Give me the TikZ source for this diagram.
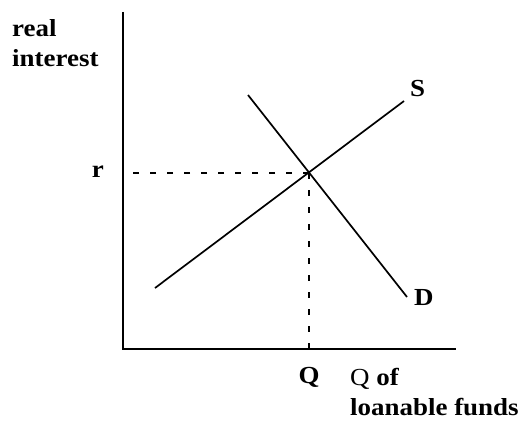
\documentclass[tikz,border=0pt]{standalone}
\usepackage{fontspec}
\setmainfont{Liberation Serif}[FakeStretch=1.1]
\usepackage{tikz}
\usetikzlibrary{positioning,calc}

\begin{document}
\begin{tikzpicture}[x=1pt,y=-1pt,lab/.style={font=\fontsize{24.5}{30}\selectfont\bfseries,inner sep=0pt},
  curve/.style={line width=1.7pt},guide/.style={line width=1.2pt,dash pattern=on 6pt off 11pt}]
\useasboundingbox (0,0) rectangle (526,420);
% axes
\coordinate (O) at (123,349); \coordinate (ytop) at (123,12); \coordinate (xend) at (456,349);
\draw[curve] (ytop) -- (O) -- (xend);
% supply and demand
\coordinate (s1) at (155,288); \coordinate (s2) at (404,101);
\coordinate (d1) at (248,95); \coordinate (d2) at (407,297);
\coordinate (E) at (309,173);
\draw[curve] (s1) -- (s2); \draw[curve] (d1) -- (d2);
\draw[guide] (E) -- (O |- E); \draw[guide] (E) -- (E |- O);
% labels
\node[lab,align=left,anchor=north west] (ylab) at (12,19) {real\\interest};
\node[lab,anchor=east] (rlab) at (104,172) {r};
\node[lab,anchor=south west] (slab) at (410,97) {S};
\node[lab,anchor=north west] (dlab) at (414,289) {D};
\node[lab,anchor=north] (qlab) at (309,367) {Q};
\node[lab,align=left,anchor=north west] (xlab) at (350,368) {\mdseries Q \bfseries of\\loanable funds};
\end{tikzpicture}
\end{document}
